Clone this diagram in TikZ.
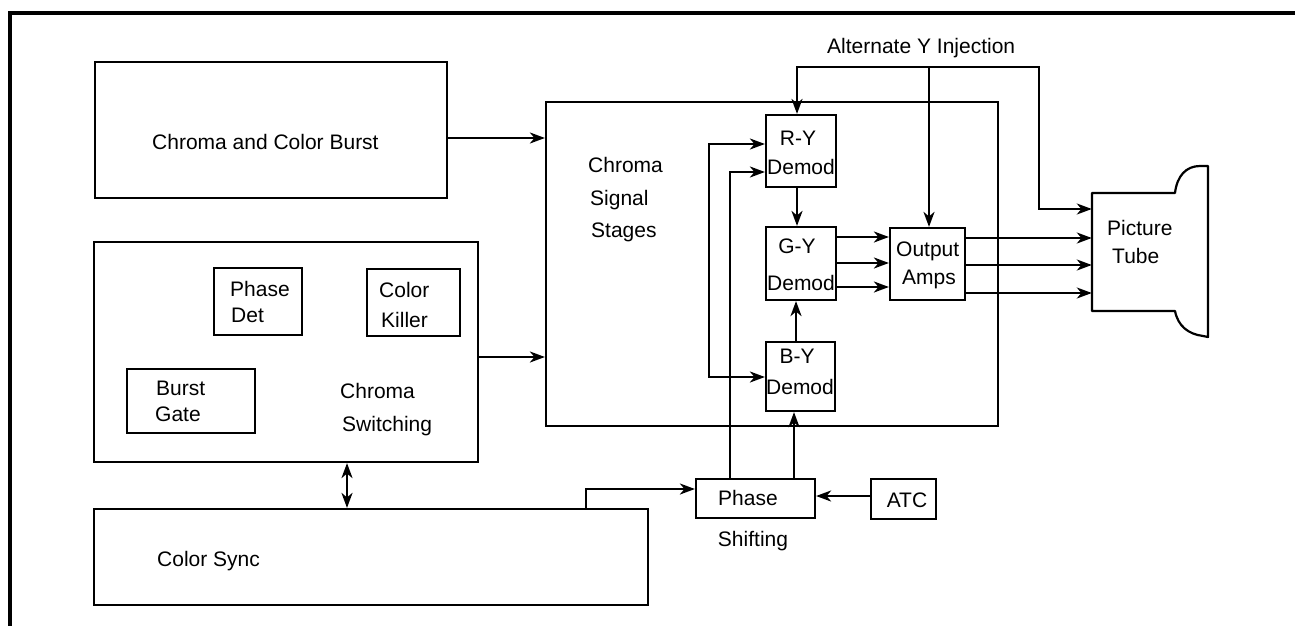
\documentclass[tikz,border=0pt]{standalone}
\usepackage{fontspec}
\setmainfont{Liberation Sans}
\usetikzlibrary{arrows.meta,fit}
\begin{document}
\begin{tikzpicture}[x=1pt,y=-1pt,
  >={Stealth[length=15pt,width=11pt,inset=4.5pt]},
  wire/.style={line width=2.2pt},
  conn/.style={wire,->},
  box/.style={draw, line width=2.2pt, inner sep=0pt},
  txt/.style={inner sep=0pt, anchor=base west, font=\fontsize{21}{25}\selectfont},
  ctxt/.style={inner sep=0pt, anchor=base, font=\fontsize{21}{25}\selectfont}]
\useasboundingbox (0,0) rectangle (1295,626);
% frame
\draw[line width=4.5pt] (10,626) -- (10,13) -- (1295,13);

% boxes
\node[box, fit={(95,62) (447,198)}] (ccb) {};
\node[box, fit={(94,242) (478,462)}] (cs) {};
\node[box, fit={(214,268) (302,335)}] (pd) {};
\node[box, fit={(367,269) (460,336)}] (ck) {};
\node[box, fit={(127,369) (255,433)}] (bg) {};
\node[box, fit={(94,509) (648,605)}] (csync) {};
\node[box, fit={(546,102) (998,426)}] (css) {};
\node[box, fit={(766,115) (836,187)}] (ry) {};
\node[box, fit={(766,227) (836,300)}] (gy) {};
\node[box, fit={(766,342) (835,411)}] (by) {};
\node[box, fit={(890,228) (965,300)}] (oa) {};
\node[box, fit={(696,479) (815,518)}] (ps) {};
\node[box, fit={(871,479) (936,519)}] (atc) {};
\node[inner sep=0pt, fit={(1092,193) (1175,311)}] (tube) {};
\draw[wire, line join=round] (1092,193) -- (1175,193)
  .. controls (1177,176) and (1186,166) .. (1200,166) -- (1208,166)
  -- (1208,337) -- (1203,336)
  .. controls (1188,334) and (1178,326) .. (1175,311)
  -- (1092,311) -- cycle;

% texts
\node[txt] (t1) at (152,149.5) {Chroma and Color Burst};
\node[txt] (t2) at (230,296) {Phase};
\node[txt] (t3) at (231,322) {Det};
\node[txt] (t4) at (379,297) {Color};
\node[txt] (t5) at (381,327) {Killer};
\node[txt] (t6) at (156,395) {Burst};
\node[txt] (t7) at (155,421) {Gate};
\node[txt] (t8) at (340,398) {Chroma};
\node[txt] (t9) at (342,431) {Switching};
\node[txt] (t10) at (157,566) {Color Sync};
\node[txt] (t11) at (588,172) {Chroma};
\node[txt] (t12) at (590,205) {Signal};
\node[txt] (t13) at (591,237) {Stages};
\node[ctxt] (t14) at (798,145) {R-Y};
\node[ctxt] (t15) at (801,174) {Demod};
\node[ctxt] (t16) at (797,253) {G-Y};
\node[ctxt] (t17) at (801,290) {Demod};
\node[ctxt] (t18) at (797,363) {B-Y};
\node[ctxt] (t19) at (800,394) {Demod};
\node[txt] (t20) at (896,256) {Output};
\node[txt] (t21) at (902,284) {Amps};
\node[txt] (t22) at (1107,235) {Picture};
\node[txt] (t23) at (1112,263) {Tube};
\node[ctxt] (t24) at (748,505) {Phase};
\node[ctxt] (t25) at (753,546) {Shifting};
\node[ctxt] (t26) at (907,507) {ATC};
\node[txt] (t27) at (827,53) {Alternate Y Injection};

% connectors
\draw[conn] (ccb.east |- 0,138) -- (css.west |- 0,138);
\draw[conn] (cs.east |- 0,357) -- (css.west |- 0,357);
\draw[wire,<->] (cs.south -| 347,0) -- (csync.north -| 347,0);
\draw[conn] (csync.north -| 586,0) |- (ps.west |- 0,489);
\draw[conn] (atc.west |- 0,496) -- (ps.east |- 0,496);
\draw[conn] (ps.north -| 794,0) -- (by.south -| 794,0);
\draw[conn] (by.north -| 796,0) -- (gy.south -| 796,0);
\draw[conn] (ry.south -| 797,0) -- (gy.north -| 797,0);
\draw[conn] (ps.north -| 730,0) |- (ry.west |- 0,172);
\draw[wire,<->] (ry.west |- 0,144) -| (709,377) -- (by.west |- 0,377);
\foreach \yy in {237,263,287}
  \draw[conn] (gy.east |- 0,\yy) -- (oa.west |- 0,\yy);
\foreach \yy in {238,265,293}
  \draw[conn] (oa.east |- 0,\yy) -- (tube.west |- 0,\yy);
\coordinate (ayl) at (797,67);
\coordinate (ayr) at (1039,67);
\coordinate (aym) at (929,67);
\draw[wire,<->] (ry.north -| ayl) -- (ayl) -- (ayr) |- (tube.west |- 0,209);
\draw[conn] (aym) -- (oa.north -| aym);
\end{tikzpicture}
\end{document}
